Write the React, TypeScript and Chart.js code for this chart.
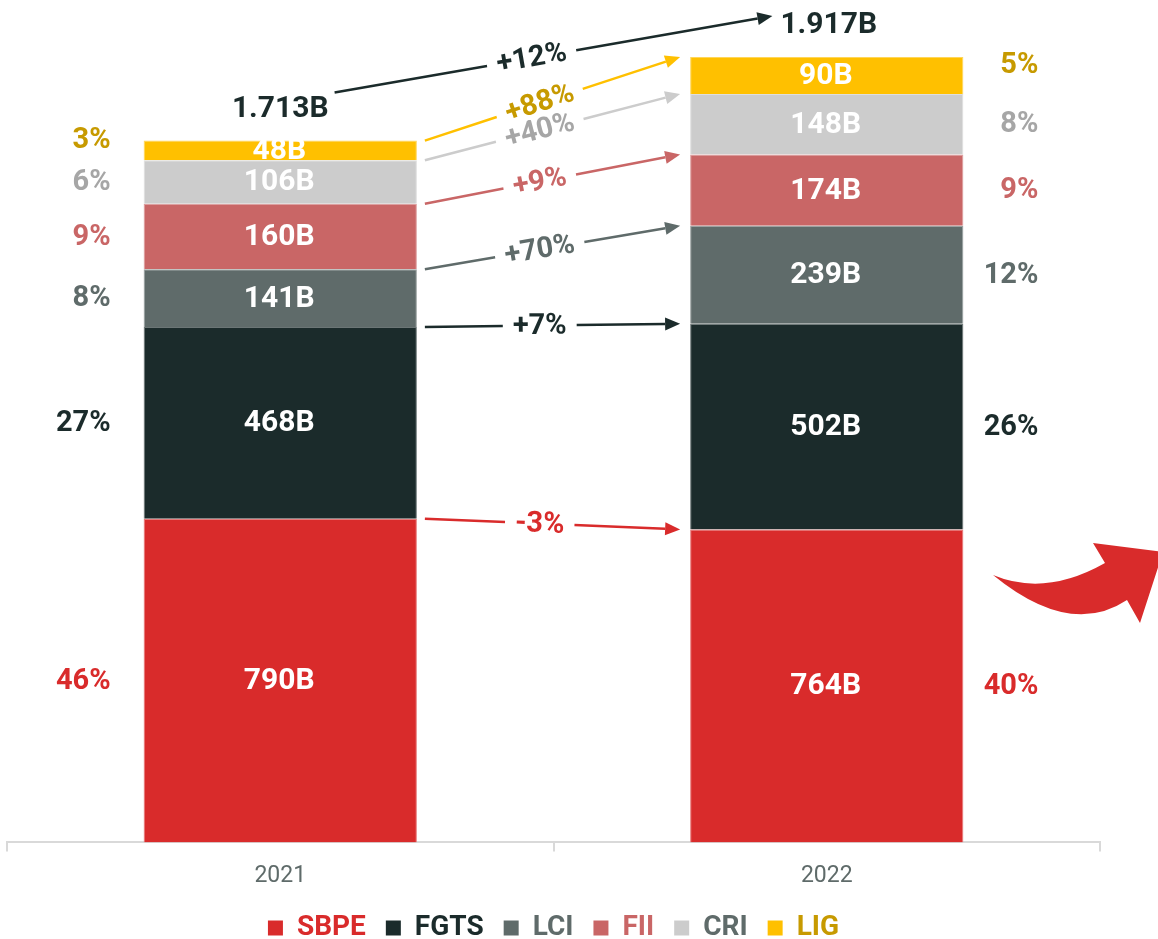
import React, { useEffect, useRef } from "react";
import { Chart, registerables } from "chart.js";

Chart.register(...registerables);

// ---- data ----
const years = ["2021", "2022"];
const seriesNames = ["SBPE", "FGTS", "LCI", "FII", "CRI", "LIG"];
const sbpe = [790, 764];
const fgts = [468, 502];
const lci = [141, 239];
const fii = [160, 174];
const cri = [106, 148];
const lig = [48, 90];
const seriesValues = [sbpe, fgts, lci, fii, cri, lig];
const yMax = 2000;

// ---- styles ----
const fillColors = ["#d92b2b", "#1b2b2b", "#5f6b6a", "#c96666", "#cccccc", "#ffc000"];
const textColors = ["#d92b2b", "#1b2b2b", "#5f6b6a", "#c96666", "#a6a6a6", "#c79a00"];
const legendColors = ["#d92b2b", "#1b2b2b", "#5f6b6a", "#c96666", "#5f6b6a", "#c79a00"];
const FONT = "Roboto, 'Noto Sans', sans-serif";

function tint(hex: string, f: number) {
  const n = parseInt(hex.slice(1), 16);
  const r = (n >> 16) & 255, g = (n >> 8) & 255, b = n & 255;
  const m = (c: number) => Math.round(c + (255 - c) * f);
  return `rgb(${m(r)},${m(g)},${m(b)})`;
}

function fmtTotal(v: number) {
  const s = String(v);
  return s.length > 3 ? s.slice(0, s.length - 3) + "." + s.slice(-3) + "B" : s + "B";
}

function drawArrow(
  ctx: CanvasRenderingContext2D,
  x1: number, y1: number, x2: number, y2: number,
  lineColor: string, label: string, labelColor: string
) {
  const dx = x2 - x1, dy = y2 - y1;
  const len = Math.hypot(dx, dy);
  const ux = dx / len, uy = dy / len;
  const ang = Math.atan2(dy, dx);
  ctx.font = `bold 29px ${FONT}`;
  const w = ctx.measureText(label).width;
  const t = 0.45;
  const lx = x1 + dx * t, ly = y1 + dy * t;
  const gap = w / 2 + 10;
  const head = 15, hw = 6.5;
  ctx.strokeStyle = lineColor;
  ctx.lineWidth = 2.5;
  ctx.lineCap = "butt";
  ctx.beginPath();
  ctx.moveTo(x1, y1);
  ctx.lineTo(lx - ux * gap, ly - uy * gap);
  ctx.moveTo(lx + ux * gap, ly + uy * gap);
  ctx.lineTo(x2 - ux * head, y2 - uy * head);
  ctx.stroke();
  ctx.fillStyle = lineColor;
  ctx.beginPath();
  ctx.moveTo(x2, y2);
  ctx.lineTo(x2 - ux * head - uy * hw, y2 - uy * head + ux * hw);
  ctx.lineTo(x2 - ux * head + uy * hw, y2 - uy * head - ux * hw);
  ctx.closePath();
  ctx.fill();
  ctx.save();
  ctx.translate(lx, ly);
  ctx.rotate(ang);
  ctx.fillStyle = labelColor;
  ctx.textAlign = "center";
  ctx.textBaseline = "middle";
  ctx.fillText(label, 0, 1);
  ctx.restore();
}

const annotationsPlugin = {
  id: "annotations",
  afterDatasetsDraw(chart: any) {
    const ctx: CanvasRenderingContext2D = chart.ctx;
    const metas = seriesValues.map((_, i) => chart.getDatasetMeta(i));
    const totals = years.map((_, j) => seriesValues.reduce((s, arr) => s + arr[j], 0));
    ctx.save();

    // values inside segments + share percentages
    metas.forEach((meta: any, i: number) => {
      meta.data.forEach((bar: any, j: number) => {
        const { x, y, base, width } = bar.getProps(["x", "y", "base", "width"], true);
        const cy = (y + base) / 2;
        ctx.font = `bold 30px ${FONT}`;
        ctx.fillStyle = "#ffffff";
        ctx.textAlign = "center";
        ctx.textBaseline = "middle";
        ctx.fillText(`${seriesValues[i][j]}B`, x - 1, cy + 1);

        const pct = Math.round((seriesValues[i][j] / totals[j]) * 100) + "%";
        ctx.font = `bold 29px ${FONT}`;
        ctx.fillStyle = textColors[i];
        ctx.textAlign = "right";
        const py = cy + 1 + (i === seriesValues.length - 1 ? -11 : 0);
        const px = j === 0 ? x - width / 2 - 33 : x + width / 2 + 75;
        ctx.fillText(pct, px, py);
      });
    });

    // growth arrows between the bars
    metas.forEach((meta: any, i: number) => {
      const b0 = meta.data[0].getProps(["x", "y", "width"], true);
      const b1 = meta.data[1].getProps(["x", "y", "width"], true);
      const v0 = seriesValues[i][0], v1 = seriesValues[i][1];
      const g = Math.round((v1 / v0 - 1) * 100);
      const label = (g >= 0 ? "+" : "-") + Math.abs(g) + "%";
      drawArrow(
        ctx,
        b0.x + b0.width / 2 + 8, b0.y,
        b1.x - b1.width / 2 - 10, b1.y,
        fillColors[i], label, textColors[i]
      );
    });

    // totals + total arrow
    const top = metas[metas.length - 1];
    const tb0 = top.data[0].getProps(["x", "y"], true);
    const tb1 = top.data[1].getProps(["x", "y"], true);
    ctx.font = `bold 30px ${FONT}`;
    ctx.fillStyle = "#1b2b2b";
    ctx.textAlign = "center";
    ctx.textBaseline = "middle";
    const t0 = fmtTotal(totals[0]);
    const t1 = fmtTotal(totals[1]);
    const w0 = ctx.measureText(t0).width;
    const w1 = ctx.measureText(t1).width;
    const ty0 = tb0.y - 31, ty1 = tb1.y - 32;
    ctx.fillText(t0, tb0.x, ty0);
    ctx.fillText(t1, tb1.x + 2, ty1);
    const tg = Math.round((totals[1] / totals[0] - 1) * 100);
    drawArrow(
      ctx,
      tb0.x + w0 / 2 + 6, ty0 - 17,
      tb1.x + 2 - w1 / 2 - 8, ty1 - 9,
      "#1b2b2b", (tg >= 0 ? "+" : "-") + Math.abs(tg) + "%", "#1b2b2b"
    );

    // decorative curved red arrow on the right
    const ax = chart.chartArea.right - 107;
    const ay = 575;
    ctx.fillStyle = "#d92b2b";
    ctx.beginPath();
    ctx.moveTo(ax, ay);
    ctx.quadraticCurveTo(ax + 52, ay + 22, ax + 112, ay - 12);
    ctx.lineTo(ax + 100, ay - 32);
    ctx.lineTo(ax + 170, ay - 23);
    ctx.lineTo(ax + 147, ay + 48);
    ctx.lineTo(ax + 134, ay + 25);
    ctx.quadraticCurveTo(ax + 77, ay + 63, ax, ay);
    ctx.closePath();
    ctx.fill();

    ctx.restore();
  },
};

export default function App() {
  const ref = useRef<HTMLCanvasElement>(null);
  useEffect(() => {
    const canvas = ref.current!;
    const chart = new Chart(canvas, {
      type: "bar",
      data: {
        labels: years,
        datasets: seriesNames.map((name, i) => ({
          label: name,
          data: seriesValues[i],
          backgroundColor: fillColors[i],
          borderColor: tint(fillColors[i], 0.35),
          borderWidth: 1,
          barPercentage: 0.5,
          categoryPercentage: 1.0,
        })),
      },
      options: {
        responsive: false,
        animation: false,
        devicePixelRatio: 1,
        events: [],
        layout: { padding: { left: 7, right: 58, top: 23, bottom: -13 } },
        scales: {
          x: {
            stacked: true,
            afterFit(scale: any) {
              scale.height -= 7;
            },
            grid: {
              display: true,
              drawOnChartArea: false,
              drawTicks: true,
              tickLength: 9,
              color: "#d9d9d9",
              lineWidth: 2,
            },
            border: { display: true, color: "#d9d9d9", width: 2 },
            ticks: {
              color: "#5f6b6a",
              font: { family: FONT, size: 23 },
              padding: 11,
            },
          },
          y: { stacked: true, display: false, min: 0, max: yMax },
        },
        plugins: {
          tooltip: { enabled: false },
          legend: {
            position: "bottom",
            labels: {
              boxWidth: 15,
              boxHeight: 15,
              padding: 20,
              font: { family: FONT, size: 28, weight: "bold" },
              generateLabels(c: any) {
                const items = (Chart.defaults.plugins.legend.labels as any).generateLabels(c);
                return items.map((it: any, i: number) => ({
                  ...it,
                  fontColor: legendColors[i],
                  lineWidth: 0,
                  strokeStyle: "rgba(0,0,0,0)",
                }));
              },
            },
          },
        },
      } as any,
      plugins: [annotationsPlugin],
    });
    return () => chart.destroy();
  }, []);
  return (
    <div style={{ position: "fixed", left: 0, top: 0, width: 1158, height: 939, background: "#fff", overflow: "hidden" }}>
      <canvas ref={ref} width={1158} height={939} style={{ display: "block" }} />
    </div>
  );
}
